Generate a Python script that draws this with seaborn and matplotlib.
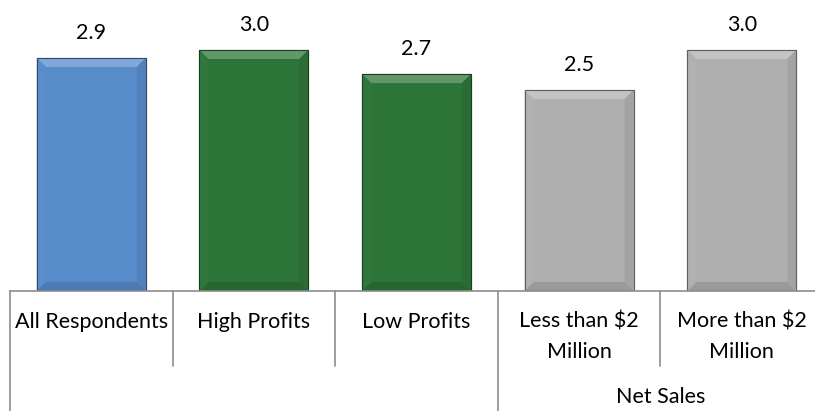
import matplotlib
matplotlib.use("Agg")
import matplotlib.pyplot as plt
import matplotlib.transforms as mtransforms
from matplotlib.patches import Polygon
from matplotlib.colors import to_rgb
import seaborn as sns
import pandas as pd

categories = ["All Respondents", "High Profits", "Low Profits",
              "Less than $2\nMillion", "More than $2\nMillion"]
values = [2.9, 3.0, 2.7, 2.5, 3.0]
bar_colors = ["#588BCA", "#2D7438", "#2D7438", "#AFAFAF", "#AFAFAF"]
group_label = "Net Sales"
group_span = (3, 4)

sns.set_theme(style="white")
plt.rcParams["font.family"] = ["Lato", "DejaVu Sans"]

W, H, DPI = 815, 411, 100
fig = plt.figure(figsize=(W / DPI, H / DPI), dpi=DPI)
ymax = 3.6
base_px = 291
px_per_unit = 80.33
ax_h = ymax * px_per_unit
left_px, right_px = 10, 823
ax = fig.add_axes([left_px / W, (H - base_px) / H, (right_px - left_px) / W, ax_h / H])

df = pd.DataFrame({"cat": categories, "val": values})
sns.barplot(data=df, x="cat", y="val", hue="cat", palette=bar_colors,
            legend=False, width=0.67, ax=ax, saturation=1)
ax.set_xlim(-0.5, len(categories) - 0.5)
ax.set_ylim(0, ymax)

def shade(c, f):
    r, g, b = to_rgb(c)
    if f > 0:
        return (r + (1 - r) * f, g + (1 - g) * f, b + (1 - b) * f)
    return (r * (1 + f), g * (1 + f), b * (1 + f))

# bevelled edges on each bar
bev = 9
x_unit = (right_px - left_px) / len(categories)
dx, dy = bev / x_unit, bev / px_per_unit
for p, c in zip(ax.patches, bar_colors):
    x0, y0 = p.get_x(), p.get_y()
    x1, y1 = x0 + p.get_width(), y0 + p.get_height()
    p.set_edgecolor(shade(c, -0.45))
    p.set_linewidth(0.8)
    faces = [
        ([(x0, y1), (x1, y1), (x1 - dx, y1 - dy), (x0 + dx, y1 - dy)], 0.25),
        ([(x0, y0), (x1, y0), (x1 - dx, y0 + dy), (x0 + dx, y0 + dy)], -0.12),
        ([(x0, y0), (x0, y1), (x0 + dx, y1 - dy), (x0 + dx, y0 + dy)], 0.02),
        ([(x1, y0), (x1, y1), (x1 - dx, y1 - dy), (x1 - dx, y0 + dy)], -0.07),
    ]
    for pts, f in faces:
        ax.add_patch(Polygon(pts, closed=True, facecolor=shade(c, f),
                             edgecolor="none", zorder=p.get_zorder() + 0.1))
    ax.add_patch(plt.Rectangle((x0, y0), x1 - x0, y1 - y0, fill=False,
                               edgecolor=shade(c, -0.45), linewidth=0.8,
                               zorder=p.get_zorder() + 0.2))

for p, v in zip(ax.patches[:len(values)], values):
    ax.annotate(f"{v:.1f}", (p.get_x() + p.get_width() / 2, v),
                xytext=(0, 11), textcoords="offset points",
                ha="center", va="bottom", fontsize=15.5, color="black")

for s in ["top", "right", "left"]:
    ax.spines[s].set_visible(False)
ax.spines["bottom"].set_color("#8C8C8C")
ax.spines["bottom"].set_linewidth(1.2)
ax.set_yticks([])
ax.set_xlabel("")
ax.set_ylabel("")
ax.set_xticks(range(len(categories)))
ax.set_xticklabels(categories, fontsize=15.5, linespacing=1.65)
ax.tick_params(axis="x", length=0, pad=15, colors="black")

# category separators below the axis
trans = mtransforms.blended_transform_factory(ax.transData, fig.transFigure)
y_base = (H - base_px) / H
y_short = (H - 366) / H
long_lines = {-0.5, group_span[0] - 0.5, group_span[1] + 0.5}
for i in range(len(categories) + 1):
    xb = i - 0.5
    y_end = 0 if xb in long_lines else y_short
    ax.plot([xb, xb], [y_base, y_end], transform=trans, color="#8C8C8C",
            linewidth=1.2, clip_on=False)

fig.text((group_span[0] + group_span[1]) / 2, (H - 397) / H, group_label,
         transform=trans, ha="center", va="center", fontsize=15.5, color="black")

fig.savefig("out.png", dpi=DPI)
